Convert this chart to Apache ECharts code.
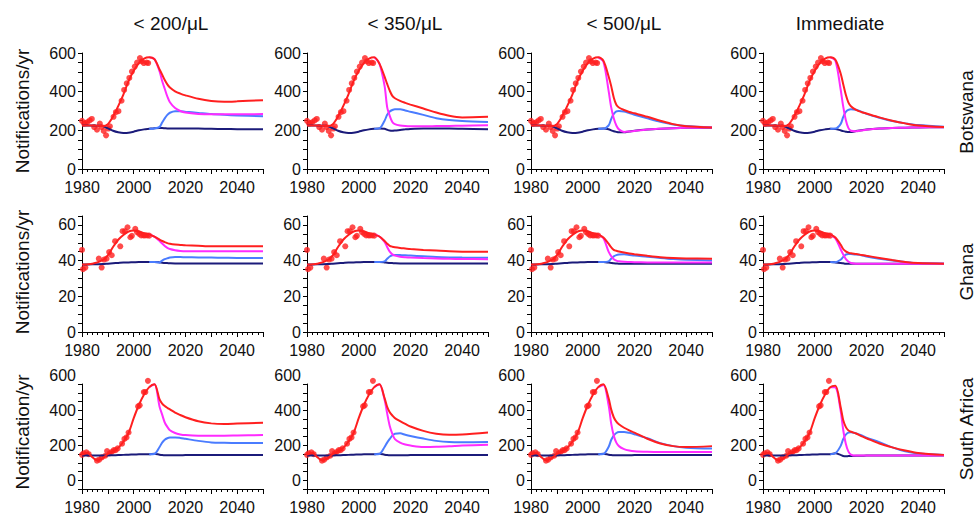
<!DOCTYPE html>
<html>
<head>
<meta charset="utf-8">
<title>TB notifications by ART eligibility</title>
<script src="https://cdn.jsdelivr.net/npm/echarts@6/dist/echarts.min.js"></script>
<style>
html, body { margin: 0; padding: 0; background: #fff; }
#chart { width: 976px; height: 515px; }
</style>
</head>
<body>
<div id="chart"></div>
<script>
// column / row labels
var colTitles = ['< 200/\u03bcL', '< 350/\u03bcL', '< 500/\u03bcL', 'Immediate'];
var countries = ['Botswana', 'Ghana', 'South Africa'];
var yNames = ['Notifications/yr', 'Notifications/yr', 'Notification/yr'];

// shared projection years (all scenarios)
var lateYr = [2006, 2008, 2010, 2011, 2012, 2013, 2014, 2016, 2018, 2020, 2025, 2030, 2035, 2040, 2050];

// ---- Botswana ----
var bwObsYr = [1980, 1980.8, 1981.4, 1982.1, 1983, 1983.8, 1984.7, 1985.8, 1986.9, 1987.6, 1988.4, 1989.3, 1990.2, 1990.8, 1992.2, 1993.1, 1994.1, 1995.3, 1996.3, 1997.3, 1998.3, 1999.3, 2000.4, 2001.3, 2002.4, 2003.1, 2003.9, 2005, 2005.6];
var bwObs = [249, 235, 238, 243, 252, 259, 217, 203, 235, 217, 197, 174, 209, 221, 270, 294, 299, 353, 409, 443, 471, 504, 530, 551, 574, 557, 548, 551, 548];
var bwEarlyYr = [1980, 1984, 1988, 1990, 1992, 1994, 1996, 1998, 2000, 2002, 2004];
var bwRedEarly = [225, 225, 222, 232, 272, 325, 385, 455, 508, 548, 571];
var bwNavyEarly = [225, 225, 222, 210, 198, 190, 186, 187, 193, 200, 205];
var bwRed = [
  [578, 568, 515, 488, 460, 438, 422, 402, 390, 381, 363, 352, 348, 350, 356],
  [578, 545, 478, 440, 405, 378, 366, 352, 342, 333, 313, 292, 275, 267, 270],
  [578, 560, 480, 430, 370, 332, 318, 305, 295, 288, 270, 250, 232, 221, 215],
  [578, 565, 495, 440, 385, 345, 325, 306, 295, 287, 267, 250, 236, 225, 217]
];
var bwMag = [
  [578, 568, 505, 455, 415, 375, 345, 315, 300, 292, 285, 283, 283, 283, 284],
  [578, 545, 430, 320, 275, 243, 232, 225, 222, 221, 221, 222, 223, 224, 226],
  [578, 555, 405, 320, 262, 225, 205, 192, 194, 197, 204, 208, 211, 213, 215],
  [578, 560, 414, 325, 255, 213, 198, 195, 199, 203, 209, 212, 214, 215, 216]
];
var bwBlue = [
  [208, 210, 218, 240, 262, 280, 291, 299, 299, 296, 290, 284, 280, 277, 273],
  [208, 210, 250, 280, 297, 305, 309, 309, 303, 296, 280, 263, 253, 248, 243],
  [208, 208, 225, 258, 285, 298, 300, 297, 289, 281, 262, 244, 230, 222, 215],
  [208, 209, 232, 268, 295, 306, 309, 306, 297, 285, 265, 248, 236, 227, 218]
];
var bwNavy = [
  [208, 211, 212, 212, 211, 210, 210, 210, 210, 210, 209, 208, 207, 206, 205],
  [208, 210, 208, 203, 199, 198, 199, 202, 205, 207, 209, 209, 209, 208, 206],
  [208, 209, 206, 200, 195, 192, 190, 190, 194, 198, 204, 208, 211, 213, 214],
  [208, 207, 200, 196, 193, 191, 191, 196, 200, 204, 209, 212, 214, 215, 216]
];

// ---- Ghana ----
var ghObsYr = [1980, 1980.4, 1981.3, 1986.5, 1987.6, 1988.5, 1989.5, 1990.5, 1991.5, 1992.8, 1994.8, 1995.7, 1996.6, 1997.6, 1998.7, 1999.3, 2000.6, 2001.3, 2002.1, 2002.9, 2003.8, 2004.4, 2005.2, 2006];
var ghObs = [46, 35.2, 36.1, 41.1, 36.1, 40.6, 41.1, 44.8, 43, 50.9, 48, 56.5, 56.5, 58.7, 53.1, 53.9, 57.8, 55.9, 55, 54.1, 54.1, 54.1, 54.1, 54];
var ghEarlyYr = [1980, 1984, 1988, 1990, 1992, 1994, 1996, 1998, 2000, 2002, 2004];
var ghRedEarly = [37.8, 38.3, 40.3, 43, 47.6, 51.7, 54.4, 56.3, 56.9, 56.3, 55.4];
var ghNavyEarly = [37.8, 37.9, 38.1, 38.3, 38.5, 38.7, 38.9, 39.0, 39.1, 39.2, 39.2];
var ghRed = [
  [54.6, 53.4, 51.8, 51, 50.4, 49.8, 49.4, 49, 48.8, 48.6, 48.3, 48, 48, 48, 48],
  [54.6, 53.5, 51, 49.5, 48.3, 47.8, 47.5, 47.1, 46.8, 46.5, 46, 45.6, 45.2, 45, 44.9],
  [54.6, 53, 49.5, 47.5, 46, 45.5, 45.1, 44.5, 44, 43.6, 42.7, 41.9, 41.4, 41.2, 41.1],
  [54.6, 53, 49, 46.5, 45.2, 44.5, 44.1, 43.7, 43.2, 42.7, 41.5, 40.3, 39.2, 38.6, 38.2]
];
var ghMag = [
  [54.6, 53.4, 51, 49.6, 48.2, 47.2, 46.5, 45.8, 45.4, 45.2, 45.2, 45.2, 45.2, 45.2, 45.2],
  [54.6, 53.5, 50.5, 47.6, 45, 43.5, 42.8, 42.2, 41.9, 41.7, 41.4, 41.2, 41, 40.9, 40.8],
  [54.6, 52.5, 45, 42.5, 40.8, 40, 39.6, 39.3, 39.2, 39.1, 39, 38.9, 38.9, 38.9, 38.9],
  [54.6, 52.5, 46.5, 43.5, 41, 39.5, 38.7, 38.3, 38.2, 38.2, 38.2, 38.2, 38.2, 38.2, 38.2]
];
var ghBlue = [
  [39.2, 39.2, 39, 40, 40.8, 41.3, 41.7, 42, 42, 41.9, 41.8, 41.7, 41.6, 41.5, 41.5],
  [39.2, 39.2, 39.6, 41, 42.3, 43, 43.2, 43.1, 43, 42.8, 42.4, 42, 41.8, 41.7, 41.6],
  [39.2, 39.2, 39.6, 41, 42.4, 43.1, 43.4, 43.5, 43.2, 42.8, 42.2, 41.5, 40.9, 40.5, 40.1],
  [39.2, 39.1, 40.5, 42, 43.3, 43.7, 43.7, 43.4, 43, 42.3, 41, 40, 39.2, 38.6, 38.2]
];
var ghNavy = [
  [39.2, 39.2, 39, 38.8, 38.7, 38.6, 38.5, 38.4, 38.4, 38.4, 38.4, 38.4, 38.4, 38.4, 38.4],
  [39.2, 39.2, 39, 38.8, 38.7, 38.6, 38.5, 38.4, 38.4, 38.4, 38.4, 38.4, 38.4, 38.4, 38.4],
  [39.2, 39.2, 38.9, 38.7, 38.5, 38.4, 38.3, 38.3, 38.3, 38.3, 38.3, 38.3, 38.3, 38.3, 38.3],
  [39.2, 39, 38.7, 38.5, 38.3, 38.2, 38.2, 38.2, 38.2, 38.2, 38.2, 38.2, 38.2, 38.2, 38.2]
];

// ---- South Africa ----
var saObsYr = [1980, 1980.6, 1981.7, 1982.6, 1985.8, 1986.7, 1987.7, 1989, 1989.7, 1990.7, 1991.6, 1992.3, 1993, 1993.8, 1995.5, 1996.4, 1997.2, 1998, 2001.7, 2002.3, 2003.9, 2004.5, 2005.5];
var saObs = [195, 204, 210, 199, 162, 168, 181, 190, 217, 204, 213, 222, 222, 232, 259, 286, 295, 323, 472, 478, 554, 554, 618];
var saEarlyYr = [1980, 1982, 1984, 1986, 1988, 1990, 1992, 1994, 1996, 1998, 2000, 2002, 2004];
var saRedEarly = [195, 207, 182, 163, 176, 200, 215, 235, 270, 320, 405, 480, 540];
var saNavyEarly = [192, 192, 191, 191, 191, 192, 193, 194, 195, 196, 197, 198, 199];
var saRed = [
  [582, 598, 512, 488, 474, 464, 455, 437, 423, 410, 387, 375, 372, 374, 378],
  [582, 598, 520, 470, 438, 420, 405, 388, 372, 357, 332, 316, 310, 312, 323],
  [582, 598, 520, 455, 410, 385, 370, 350, 335, 322, 287, 260, 245, 240, 245],
  [582, 590, 470, 395, 355, 335, 327, 317, 302, 290, 260, 238, 220, 206, 195]
];
var saMag = [
  [582, 598, 470, 425, 380, 355, 336, 320, 312, 308, 305, 305, 305, 306, 308],
  [582, 598, 510, 432, 360, 315, 285, 265, 254, 248, 240, 241, 244, 248, 253],
  [582, 595, 480, 375, 305, 265, 245, 228, 220, 216, 213, 212, 212, 212, 212],
  [582, 580, 449, 340, 260, 215, 197, 191, 191, 191, 191, 191, 191, 191, 191]
];
var saBlue = [
  [199, 200, 240, 265, 282, 290, 294, 295, 292, 287, 275, 266, 264, 263, 263],
  [199, 200, 240, 265, 286, 305, 316, 318, 310, 303, 288, 275, 268, 267, 268],
  [199, 200, 240, 280, 305, 320, 326, 326, 321, 313, 290, 262, 245, 236, 231],
  [199, 204, 245, 285, 310, 322, 325, 318, 308, 293, 268, 238, 215, 203, 195]
];
var saNavy = [
  [199, 201, 196, 194, 193, 193, 193, 193, 193, 194, 194, 194, 194, 194, 194],
  [199, 201, 196, 194, 193, 193, 193, 193, 193, 194, 194, 194, 194, 194, 194],
  [199, 201, 196, 194, 193, 193, 193, 193, 193, 194, 194, 194, 194, 194, 194],
  [199, 204, 195, 189, 187, 188, 189, 190, 190, 191, 191, 191, 191, 191, 191]
];

var rowData = [
  { obsYr: bwObsYr, obs: bwObs, earlyYr: bwEarlyYr, redE: bwRedEarly, navyE: bwNavyEarly, red: bwRed, mag: bwMag, blue: bwBlue, navy: bwNavy },
  { obsYr: ghObsYr, obs: ghObs, earlyYr: ghEarlyYr, redE: ghRedEarly, navyE: ghNavyEarly, red: ghRed, mag: ghMag, blue: ghBlue, navy: ghNavy },
  { obsYr: saObsYr, obs: saObs, earlyYr: saEarlyYr, redE: saRedEarly, navyE: saNavyEarly, red: saRed, mag: saMag, blue: saBlue, navy: saNavy }
];

// layout in px
var colLeft = [82, 307, 531, 763];
var plotW = 181;
var rowTop = [53, 216, 384];
var rowH = [116, 116, 107];
var yMax = [600, 65, 600];
var yStep = [50, 5, 50];
var yLabelStep = [200, 20, 200];

var FONT = "'Liberation Sans', Arial, Helvetica, sans-serif";
var RED = '#ff1f1f', MAG = '#ff2bff', BLUE = '#4a7cff', NAVY = '#1b1b7a';

function pairs(xs, ys) {
  var out = [];
  for (var i = 0; i < xs.length; i++) out.push([xs[i], ys[i]]);
  return out;
}

var grids = [], xAxes = [], yAxes = [], series = [];
for (var r = 0; r < 3; r++) {
  for (var c = 0; c < 4; c++) {
    var k = r * 4 + c;
    var d = rowData[r];
    grids.push({ left: colLeft[c], top: rowTop[r], width: plotW, height: rowH[r] });
    xAxes.push({
      gridIndex: k, type: 'value', min: 1980, max: 2050, interval: 10,
      axisLine: { lineStyle: { color: '#000', width: 1 } },
      axisTick: { length: 5, lineStyle: { color: '#000' } },
      minorTick: { show: true, splitNumber: 5, length: 3, lineStyle: { color: '#000' } },
      splitLine: { show: false },
      axisLabel: {
        fontSize: 16, color: '#111', fontFamily: FONT, margin: 10,
        formatter: function (v) { return (v - 1980) % 20 === 0 ? String(v) : ''; }
      }
    });
    (function (step) {
      var lab = {
        fontSize: 16, color: '#111', fontFamily: FONT, margin: 6,
        formatter: function (v) { return v % step === 0 ? String(v) : ''; }
      };
      // bottom row: labels sit a little above their ticks, as in the source figure
      if (r === 2) { lab.verticalAlign = 'bottom'; lab.lineHeight = 18; }
      yAxes.push({
        gridIndex: k, type: 'value', min: 0, max: yMax[r], interval: yStep[r],
        axisLine: { show: true, lineStyle: { color: '#000', width: 1 } },
        axisTick: { show: true, length: 4, lineStyle: { color: '#000' } },
        splitLine: { show: false },
        axisLabel: lab
      });
    })(yLabelStep[r]);

    var allYr = d.earlyYr.concat(lateYr);
    var base = { type: 'line', xAxisIndex: k, yAxisIndex: k, smooth: 0.3, showSymbol: false, silent: true, clip: false };
    series.push(Object.assign({}, base, { data: pairs(allYr, d.navyE.concat(d.navy[c])), lineStyle: { color: NAVY, width: 2 } }));
    series.push(Object.assign({}, base, { data: pairs(lateYr, d.blue[c]), lineStyle: { color: BLUE, width: 2 } }));
    series.push(Object.assign({}, base, { data: pairs(lateYr, d.mag[c]), lineStyle: { color: MAG, width: 2 } }));
    series.push(Object.assign({}, base, { data: pairs(allYr, d.redE.concat(d.red[c])), lineStyle: { color: RED, width: 2 } }));
    series.push({
      type: 'scatter', xAxisIndex: k, yAxisIndex: k, data: pairs(d.obsYr, d.obs),
      symbolSize: 6, itemStyle: { color: RED }, silent: true, clip: false
    });
  }
}

var graphics = [];
var titleX = [171, 405, 624, 840];
for (var i = 0; i < 4; i++) {
  graphics.push({ type: 'text', x: titleX[i], y: 23,
    style: { text: colTitles[i], font: '19px ' + FONT, fill: '#111', textAlign: 'center', textVerticalAlign: 'middle' } });
}
var nameY = [111, 272, 432];
var rowLabY = [112, 272, 429];
for (var j = 0; j < 3; j++) {
  graphics.push({ type: 'text', x: 22, y: nameY[j], rotation: Math.PI / 2,
    style: { text: yNames[j], font: '19px ' + FONT, fill: '#111', textAlign: 'center', textVerticalAlign: 'middle' } });
  graphics.push({ type: 'text', x: 966, y: rowLabY[j], rotation: Math.PI / 2,
    style: { text: countries[j], font: '19px ' + FONT, fill: '#111', textAlign: 'center', textVerticalAlign: 'middle' } });
}

var myChart = echarts.init(document.getElementById('chart'), null, { renderer: 'svg' });
myChart.setOption({
  animation: false,
  backgroundColor: '#fff',
  grid: grids,
  xAxis: xAxes,
  yAxis: yAxes,
  series: series,
  graphic: graphics
});
</script>
</body>
</html>
